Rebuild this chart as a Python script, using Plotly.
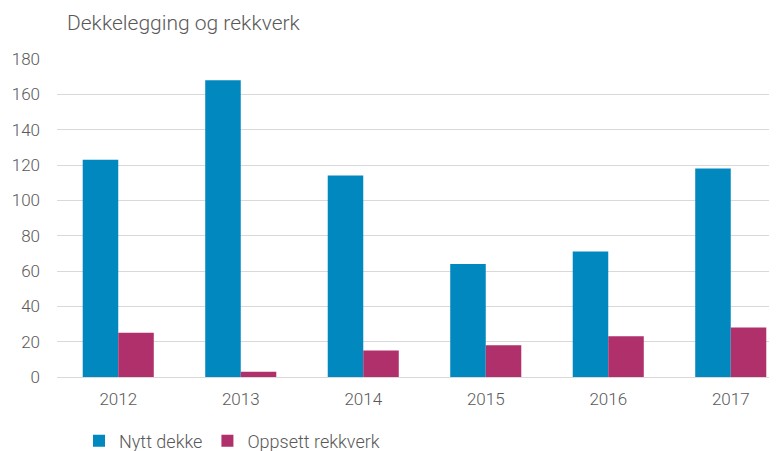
import plotly.graph_objects as go

years = ["2012", "2013", "2014", "2015", "2016", "2017"]
nytt_dekke = [123, 168, 114, 64, 71, 118]
oppsett_rekkverk = [25, 3, 15, 18, 23, 28]
y_ticks = [0, 20, 40, 60, 80, 100, 120, 140, 160, 180]

# page body has an 8px margin; figure is sized so it ends at the window edge
OFF = 8
W, H = 777 - OFF, 451 - OFF
L, R, T = 57 - OFF, 0, 59 - OFF
B = H - (377 - OFF)
plot_w = W - L - R
plot_h = H - T - B
cat_w = 122.5
x_max = -0.5 + plot_w / cat_w

font_family = "Roboto, Lato, sans-serif"
gray = "#595959"

fig = go.Figure()
fig.add_trace(go.Bar(x=list(range(len(years))), y=nytt_dekke, name="Nytt dekke",
                     marker=dict(color="#0088BF", line=dict(width=0))))
fig.add_trace(go.Bar(x=list(range(len(years))), y=oppsett_rekkverk, name="Oppsett rekkverk",
                     marker=dict(color="#AF306B", line=dict(width=0))))

fig.update_layout(
    width=W, height=H,
    margin=dict(l=L, r=R, t=T, b=B, pad=0, autoexpand=False),
    paper_bgcolor="white", plot_bgcolor="white",
    barmode="group", bargap=0.42, bargroupgap=0,
    font=dict(family=font_family, color=gray, size=17, weight=300),
    title=dict(text="Dekkelegging og rekkverk", x=(67 - OFF) / W, xanchor="left",
               y=1 - (23 - OFF) / H, yanchor="middle", pad=dict(l=0, r=0, t=0, b=0),
               font=dict(family=font_family, size=21, color=gray, weight=300)),
    legend=dict(orientation="h", x=(79 - OFF - L) / plot_w, xanchor="left",
                y=-(441 - 377) / plot_h, yanchor="middle",
                font=dict(size=18, color=gray, weight=300), itemwidth=30,
                traceorder="normal"),
    showlegend=True,
)
fig.update_xaxes(range=[-0.5, x_max], tickmode="array",
                 tickvals=list(range(len(years))), ticktext=years,
                 showgrid=False, zeroline=False, showline=False,
                 ticks="", ticklabelstandoff=10, automargin=False,
                 tickfont=dict(size=17, color=gray, weight=300))
fig.update_yaxes(range=[0, 180], tickmode="array", tickvals=y_ticks,
                 showgrid=True, gridcolor="#D9D9D9", gridwidth=1,
                 zeroline=True, zerolinecolor="#D9D9D9", zerolinewidth=1,
                 showline=False, ticks="", ticklabelstandoff=16, automargin=False,
                 tickfont=dict(size=17, color=gray, weight=300))

fig.write_html("out.html")
